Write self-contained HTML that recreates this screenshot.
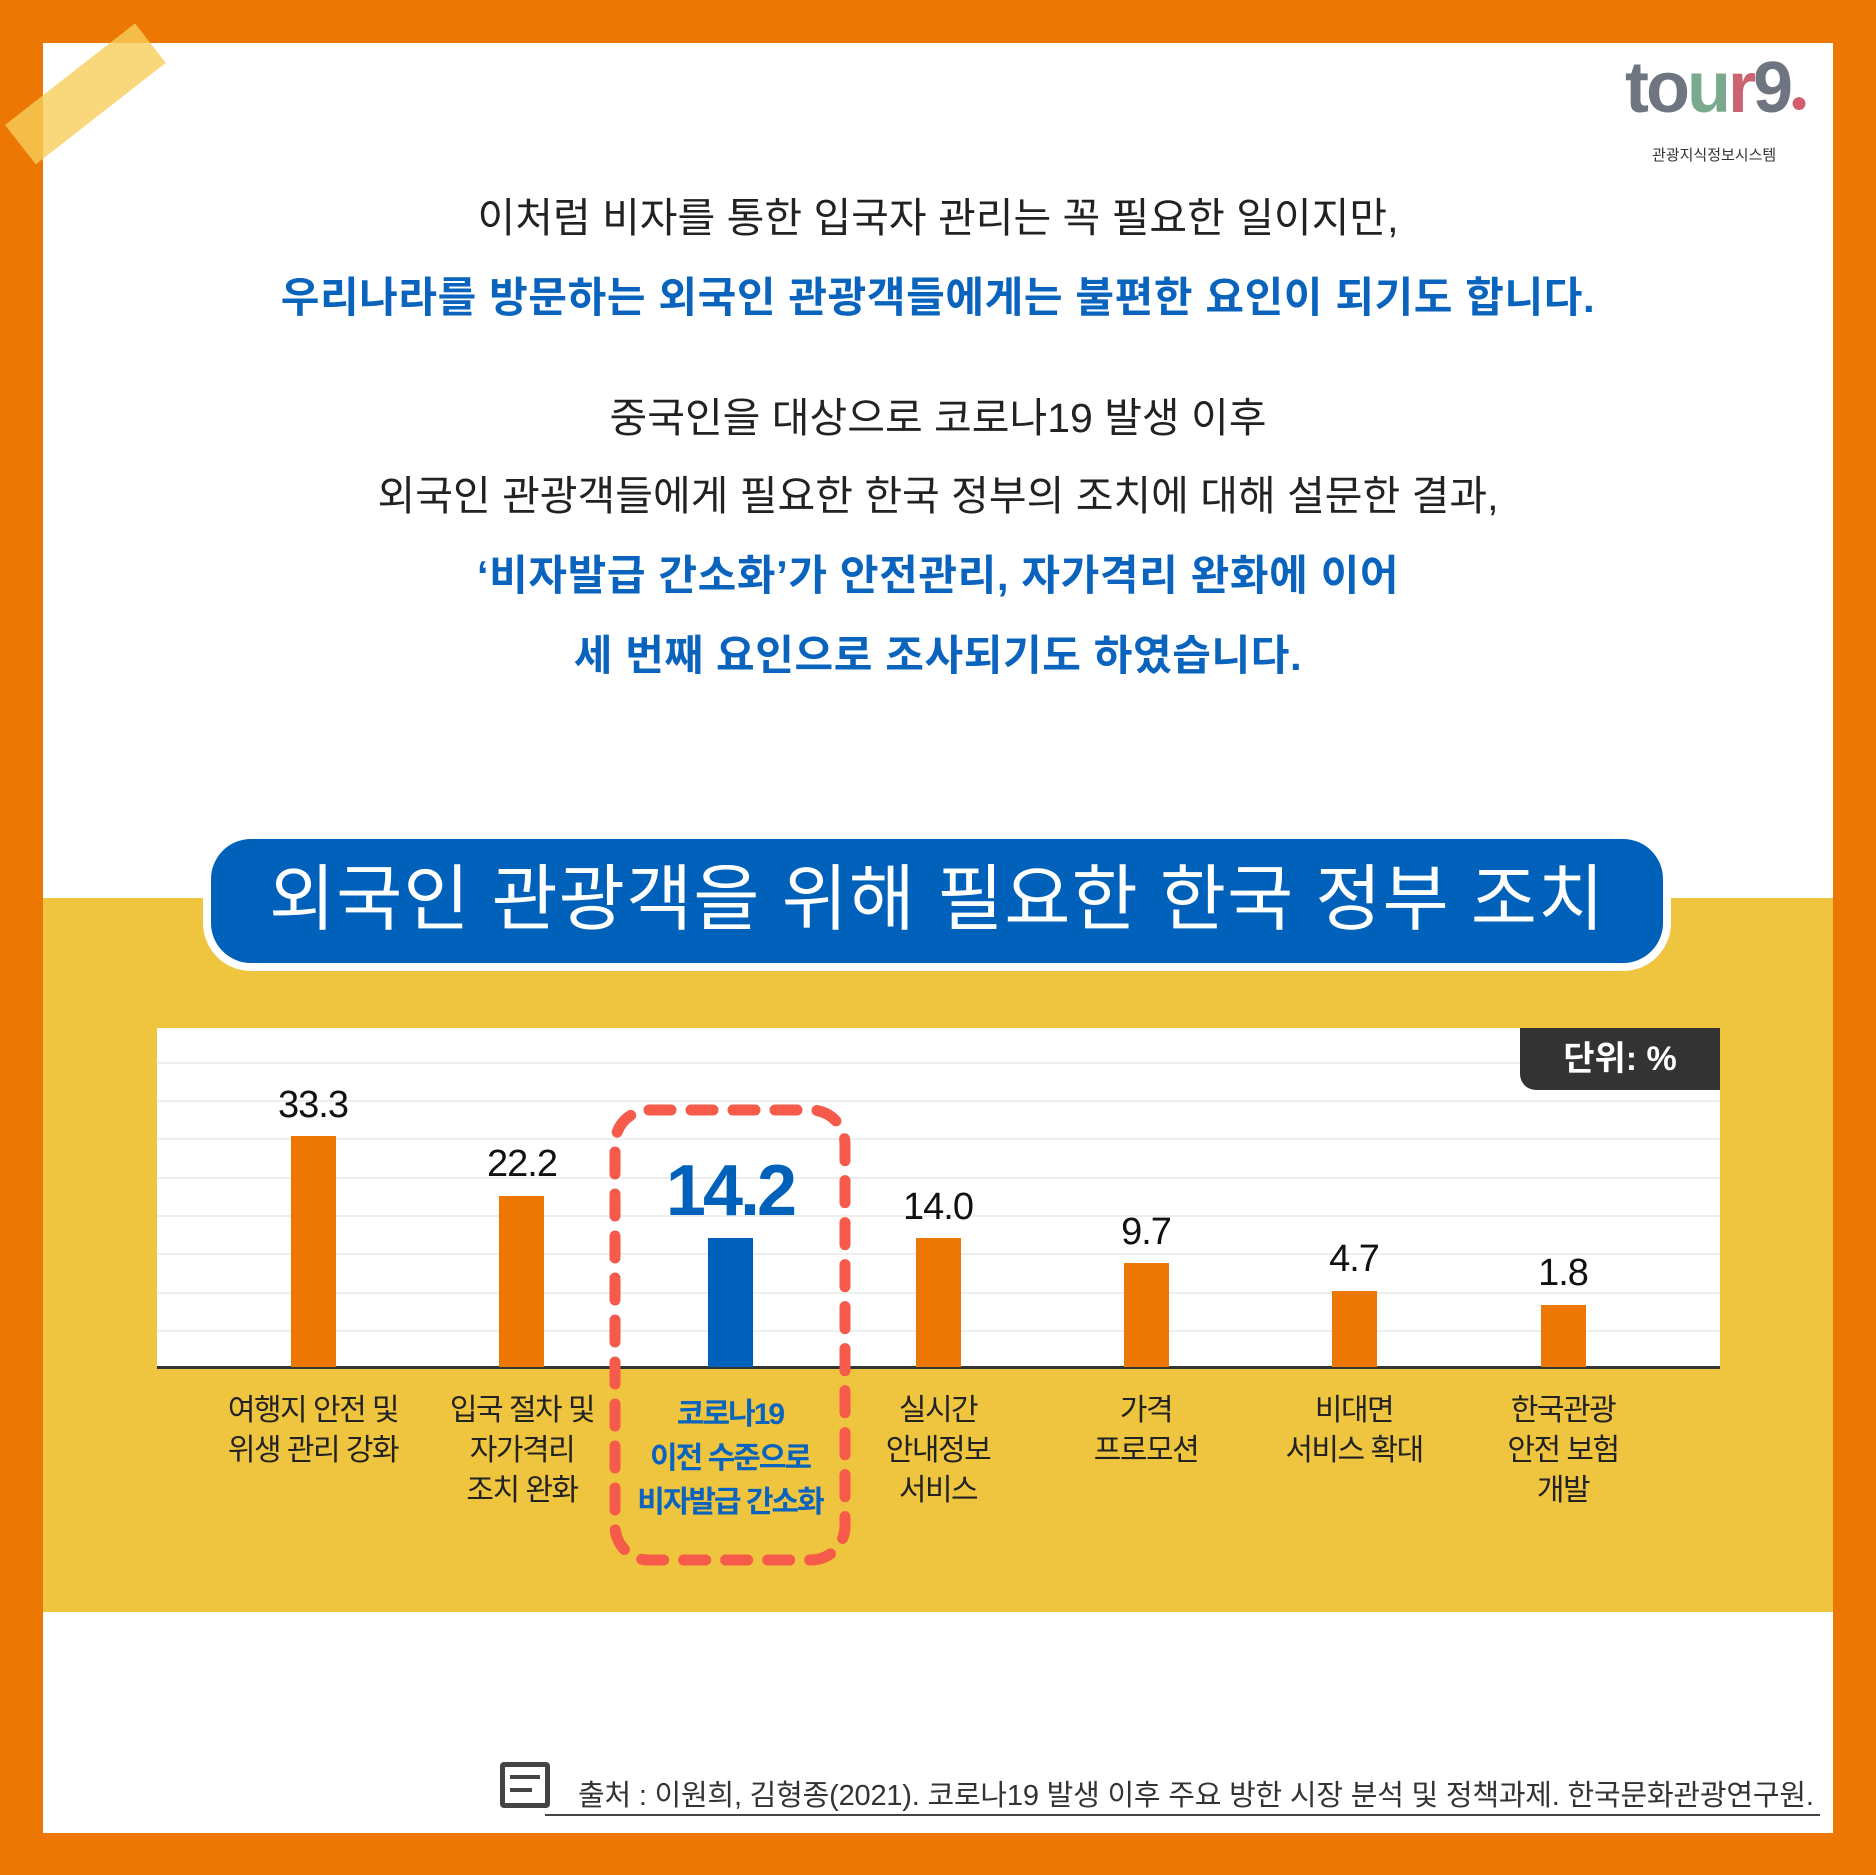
<!DOCTYPE html>
<html><head><meta charset="utf-8"><style>
*{margin:0;padding:0;box-sizing:border-box}
body{width:1876px;height:1875px;background:#ec7703;position:relative;overflow:hidden;font-family:"Liberation Sans","Noto Sans CJK KR",sans-serif}
.in{position:absolute;left:43px;top:43px;width:1790px;height:1790px;background:#fff}
.t{position:absolute;left:0;width:1876px;text-align:center;font-size:41px;color:#222;line-height:1;white-space:nowrap}
.b{color:#0a64bd;font-weight:bold;font-size:42px;letter-spacing:0.6px}
.band{position:absolute;left:43px;top:898px;width:1790px;height:714px;background:#efc43e}
.pill{position:absolute;left:203px;top:831px;width:1468px;height:140px;background:#0061bb;border:8px solid #fff;border-radius:48px;color:#fff;font-size:72px;text-align:center;line-height:122px;letter-spacing:1px}
.chart{position:absolute;left:157px;top:1028px;width:1563px;height:340px;background:#fff}
.g{position:absolute;left:157px;width:1563px;height:2px;background:#eee}
.bar{position:absolute;width:45px;background:#ec7703}
.v{position:absolute;width:200px;text-align:center;font-size:38px;color:#111;letter-spacing:-1px}
.l{position:absolute;width:200px;text-align:center;font-size:30px;color:#222;line-height:40px;top:1391px;letter-spacing:-1.5px;white-space:nowrap}
</style></head><body>
<div class="in"></div>
<div style="position:absolute;left:5px;top:125px;width:165px;height:50px;background:rgba(248,205,90,.8);transform:rotate(-38deg);transform-origin:left top"></div>
<div style="position:absolute;left:1625px;top:52px;font-size:72px;color:#6e7580;font-weight:bold;letter-spacing:-3px;line-height:1">to<span style="color:#7aa98e">u</span><span style="color:#c96470">r</span>9<span style="color:#d35d6d;font-size:30px">●</span></div>
<div style="position:absolute;left:1652px;top:144px;font-size:15px;color:#333">관광지식정보시스템</div>
<div class="t" style="top:198px">이처럼 비자를 통한 입국자 관리는 꼭 필요한 일이지만,</div>
<div class="t b" style="top:277px">우리나라를 방문하는 외국인 관광객들에게는 불편한 요인이 되기도 합니다.</div>
<div class="t" style="top:398px">중국인을 대상으로 코로나19 발생 이후</div>
<div class="t" style="top:476px">외국인 관광객들에게 필요한 한국 정부의 조치에 대해 설문한 결과,</div>
<div class="t b" style="top:555px">‘비자발급 간소화’가 안전관리, 자가격리 완화에 이어</div>
<div class="t b" style="top:635px">세 번째 요인으로 조사되기도 하였습니다.</div>
<div class="band"></div>
<div class="pill">외국인 관광객을 위해 필요한 한국 정부 조치</div>
<div class="chart"></div>
<div class="g" style="top:1062px"></div><div class="g" style="top:1100px"></div><div class="g" style="top:1138px"></div><div class="g" style="top:1177px"></div><div class="g" style="top:1215px"></div><div class="g" style="top:1253px"></div><div class="g" style="top:1292px"></div><div class="g" style="top:1330px"></div>
<div style="position:absolute;left:157px;top:1366px;width:1563px;height:3px;background:#333"></div>
<div style="position:absolute;left:1520px;top:1028px;width:200px;height:62px;background:#333;border-radius:0 0 0 16px;color:#fff;font-size:34px;text-align:center;line-height:62px;font-weight:bold">단위: %</div>
<div class="bar" style="left:291px;top:1136px;height:231px"></div>
<div class="bar" style="left:499px;top:1196px;height:171px"></div>
<div class="bar" style="left:708px;top:1238px;height:129px;background:#0061bb"></div>
<div class="bar" style="left:916px;top:1238px;height:129px"></div>
<div class="bar" style="left:1124px;top:1263px;height:104px"></div>
<div class="bar" style="left:1332px;top:1291px;height:76px"></div>
<div class="bar" style="left:1541px;top:1305px;height:62px"></div>
<div class="v" style="left:213px;top:1084px">33.3</div>
<div class="v" style="left:422px;top:1143px">22.2</div>
<div class="v" style="left:630px;top:1150px;font-size:72px;font-weight:bold;color:#0061bb;letter-spacing:-3px">14.2</div>
<div class="v" style="left:838px;top:1186px">14.0</div>
<div class="v" style="left:1046px;top:1211px">9.7</div>
<div class="v" style="left:1254px;top:1238px">4.7</div>
<div class="v" style="left:1463px;top:1252px">1.8</div>
<svg style="position:absolute;left:0;top:0" width="1876" height="1875"><rect x="615" y="1110" width="230" height="450" rx="34" fill="none" stroke="#f55a4a" stroke-width="11" stroke-dasharray="22 20" stroke-linecap="round"/></svg>
<div class="l" style="left:213px">여행지 안전 및<br>위생 관리 강화</div>
<div class="l" style="left:422px">입국 절차 및<br>자가격리<br>조치 완화</div>
<div class="l" style="left:620px;width:220px;color:#0a64bd;font-weight:bold;top:1393px;line-height:44px;letter-spacing:-2px">코로나19<br>이전 수준으로<br>비자발급 간소화</div>
<div class="l" style="left:838px">실시간<br>안내정보<br>서비스</div>
<div class="l" style="left:1046px">가격<br>프로모션</div>
<div class="l" style="left:1254px">비대면<br>서비스 확대</div>
<div class="l" style="left:1463px">한국관광<br>안전 보험<br>개발</div>
<div style="position:absolute;left:500px;top:1762px;width:50px;height:46px;border:5px solid #444;border-radius:4px"></div>
<div style="position:absolute;left:510px;top:1775px;width:30px;height:4px;background:#444"></div>
<div style="position:absolute;left:510px;top:1788px;width:22px;height:4px;background:#444"></div>
<div style="position:absolute;left:545px;top:1814px;width:1275px;height:2px;background:#444"></div>
<div style="position:absolute;left:578px;top:1772px;font-size:29px;color:#333;letter-spacing:-0.2px;white-space:nowrap">출처 : 이원희, 김형종(2021). 코로나19 발생 이후 주요 방한 시장 분석 및 정책과제. 한국문화관광연구원.</div>
</body></html>
